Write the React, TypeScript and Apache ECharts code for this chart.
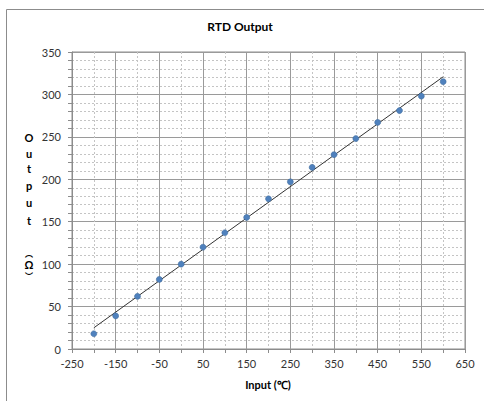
import React, { useEffect, useRef } from "react";
import * as echarts from "echarts";

const inputC = [-200, -150, -100, -50, 0, 50, 100, 150, 200, 250, 300, 350, 400, 450, 500, 550, 600];
const outputOhm = [18, 39, 62, 82, 100, 120, 137, 155, 177, 197, 214, 229, 248, 267, 281, 298, 315];
const titleText = "RTD Output";
const xName = "Input (℃)";
const yNameChars = ["O", "u", "t", "p", "u", "t"];
const yUnitChars = ["︵", "Ω", "︶"];

function trend(xs: number[], ys: number[]) {
  const n = xs.length;
  const mx = xs.reduce((a, b) => a + b, 0) / n;
  const my = ys.reduce((a, b) => a + b, 0) / n;
  let sxy = 0, sxx = 0;
  for (let i = 0; i < n; i++) {
    sxy += (xs[i] - mx) * (ys[i] - my);
    sxx += (xs[i] - mx) * (xs[i] - mx);
  }
  const b = sxy / sxx;
  const a = my - b * mx;
  const x0 = xs[0], x1 = xs[n - 1];
  return [[x0, a + b * x0], [x1, a + b * x1]];
}

export default function App() {
  const ref = useRef<HTMLDivElement>(null);
  useEffect(() => {
    if (!ref.current) return;
    const chart = echarts.init(ref.current, null, { renderer: "svg" });
    const font = "Lato, 'Liberation Sans', sans-serif";
    const yLetterY = [137, 153, 168, 185, 202, 220];
    const yUnitY = [253, 264, 275];
    const graphics: any[] = [
      {
        type: "rect",
        shape: { x: 6.5, y: 9.5, width: 600, height: 600 },
        style: { fill: "none", stroke: "#8c8c8c", lineWidth: 1 },
        silent: true,
      },
      {
        type: "text",
        x: 240,
        y: 26,
        style: { text: titleText, fill: "#000", font: `bold 12px ${font}`, textAlign: "center", textVerticalAlign: "middle" },
      },
      {
        type: "text",
        x: 268,
        y: 384,
        style: { text: xName, fill: "#000", font: `bold 11px ${font}`, textAlign: "center", textVerticalAlign: "middle" },
      },
    ];
    yNameChars.forEach((c, i) => {
      graphics.push({
        type: "text",
        x: 29,
        y: yLetterY[i],
        style: { text: c, fill: "#000", font: `bold 11px ${font}`, textAlign: "center", textVerticalAlign: "middle", lineHeight: 11 },
      });
    });
    yUnitChars.forEach((c, i) => {
      const isOmega = c === "Ω";
      graphics.push({
        type: "text",
        x: 29,
        y: yUnitY[i],
        style: {
          text: c,
          fill: "#000",
          font: isOmega ? `bold 11px ${font}` : `bold 8px 'Noto Sans CJK JP', sans-serif`,
          lineHeight: isOmega ? 10 : 8,
          textAlign: "center",
          textVerticalAlign: "middle",
        },
      });
    });
    chart.setOption({
      animation: false,
      backgroundColor: "#fff",
      grid: { left: 72, top: 52, right: 19, bottom: 52, show: true, borderColor: "#8c8c8c", borderWidth: 1 },
      xAxis: {
        type: "value",
        min: -250,
        max: 650,
        interval: 100,
        axisLine: { show: true, onZero: false, lineStyle: { color: "#8c8c8c" } },
        axisTick: { show: true, inside: false, length: 4, lineStyle: { color: "#8c8c8c" } },
        minorTick: { show: true, splitNumber: 2, length: 4, lineStyle: { color: "#8c8c8c" } },
        splitLine: { show: true, lineStyle: { color: "#9a9a9a", width: 1 } },
        minorSplitLine: { show: true, lineStyle: { color: "#c4c4c4", type: [2, 2], width: 1 } },
        axisLabel: { color: "#333", fontSize: 11, fontFamily: font, margin: 9 },
      },
      yAxis: {
        type: "value",
        min: 0,
        max: 350,
        interval: 50,
        axisLine: { show: true, onZero: false, lineStyle: { color: "#8c8c8c" } },
        axisTick: { show: true, inside: false, length: 4, lineStyle: { color: "#8c8c8c" } },
        minorTick: { show: true, splitNumber: 5, length: 4, lineStyle: { color: "#8c8c8c" } },
        splitLine: { show: true, lineStyle: { color: "#9a9a9a", width: 1 } },
        minorSplitLine: { show: true, lineStyle: { color: "#c4c4c4", type: [2, 2], width: 1 } },
        axisLabel: { color: "#333", fontSize: 11, fontFamily: font, margin: 11 },
      },
      series: [
        {
          type: "line",
          data: trend(inputC, outputOhm),
          symbol: "none",
          lineStyle: { color: "#333", width: 1 },
          silent: true,
          z: 3,
        },
        {
          type: "scatter",
          data: inputC.map((x, i) => [x, outputOhm[i]]),
          symbol: "circle",
          symbolSize: 6,
          itemStyle: { color: "#4f81bd", borderColor: "#3a6696", borderWidth: 0.5, opacity: 1 },
          z: 4,
        },
      ],
      graphic: graphics,
    });
    return () => chart.dispose();
  }, []);
  return <div ref={ref} style={{ position: "fixed", left: 0, top: 0, width: 484, height: 401 }} />;
}
